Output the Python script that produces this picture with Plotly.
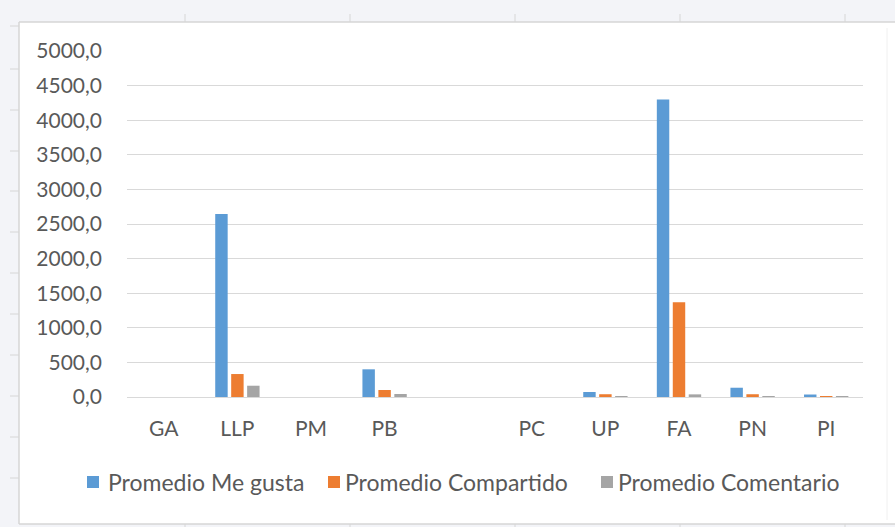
import plotly.graph_objects as go

categories = ["GA", "LLP", "PM", "PB", " ", "PC", "UP", "FA", "PN", "PI"]
me_gusta = [0, 2645, 0, 400, None, 0, 72, 4300, 134, 36]
compartido = [0, 332, 0, 101, None, 0, 40, 1368, 40, 4]
comentario = [0, 163, 0, 43, None, 0, 4, 38, 5, 2]
y_ticks = [0, 500, 1000, 1500, 2000, 2500, 3000, 3500, 4000, 4500, 5000]
y_tick_labels = ["0,0", "500,0", "1000,0", "1500,0", "2000,0", "2500,0",
                 "3000,0", "3500,0", "4000,0", "4500,0", "5000,0"]

series_names = ["Promedio Me gusta", "Promedio Compartido", "Promedio Comentario"]
series_values = [me_gusta, compartido, comentario]
series_colors = ["#5b9bd5", "#ed7d31", "#a5a5a5"]

fig = go.Figure()
for name, vals, color in zip(series_names, series_values, series_colors):
    fig.add_trace(go.Bar(x=categories, y=vals, name=name, showlegend=False,
                         marker=dict(color=color, line=dict(width=0))))

W, H = 895, 527
L, R, T, B = 127, 32, 51, 130
pw, ph = W - L - R, H - T - B

def px(x):
    return (x - L) / pw

def py(y):
    return (H - B - y) / ph

line_col = "#d6d6d6"
shapes = [
    # white chart area (spreadsheet chart object)
    dict(type="rect", xref="paper", yref="paper", x0=px(19), x1=px(W + 5),
         y0=py(524), y1=py(22), fillcolor="white", line=dict(width=0), layer="below"),
    dict(type="line", xref="paper", yref="paper", x0=px(19), x1=px(W + 5),
         y0=py(22), y1=py(22), line=dict(color=line_col, width=1.5), layer="below"),
    dict(type="line", xref="paper", yref="paper", x0=px(19), x1=px(19),
         y0=py(524), y1=py(22), line=dict(color=line_col, width=1.5), layer="below"),
    dict(type="line", xref="paper", yref="paper", x0=px(19), x1=px(W + 5),
         y0=py(524), y1=py(524), line=dict(color=line_col, width=1.5), layer="below"),
    dict(type="line", xref="paper", yref="paper", x0=px(887), x1=px(887),
         y0=py(520), y1=py(28), line=dict(color="#f0f0f0", width=1), layer="below"),
]
for cx in [185, 350, 515, 680, 845]:
    shapes.append(dict(type="line", xref="paper", yref="paper", x0=px(cx), x1=px(cx),
                       y0=py(22), y1=py(14), line=dict(color=line_col, width=1), layer="below"))
    shapes.append(dict(type="line", xref="paper", yref="paper", x0=px(cx), x1=px(cx),
                       y0=py(H + 2), y1=py(524), line=dict(color=line_col, width=1), layer="below"))
for ry in [26, 69, 110, 151, 191, 232, 273, 314, 355, 396, 437, 478]:
    shapes.append(dict(type="line", xref="paper", yref="paper", x0=px(10), x1=px(19),
                       y0=py(ry), y1=py(ry), line=dict(color=line_col, width=1), layer="below"))

# manual legend (single row, like the Excel legend)
legend_sq_x = [93, 334, 607]
legend_txt_x = [106, 343, 616]
legend_y = 482
annotations = []
for name, color, sx, tx in zip(series_names, series_colors, legend_sq_x, legend_txt_x):
    shapes.append(dict(type="rect", xref="paper", yref="paper",
                       x0=px(sx - 6), x1=px(sx + 6), y0=py(legend_y + 6), y1=py(legend_y - 6),
                       fillcolor=color, line=dict(width=0)))
    annotations.append(dict(text=name, xref="paper", yref="paper", x=px(tx), y=py(legend_y),
                            xanchor="left", yanchor="middle", showarrow=False,
                            font=dict(size=23, color="#595959")))

fig.update_layout(
    width=W, height=H,
    margin=dict(l=L, r=R, t=T, b=B, pad=0),
    paper_bgcolor="#f3f4f8",
    plot_bgcolor="white",
    barmode="group",
    bargap=0.35,
    bargroupgap=0.22,
    font=dict(family="Lato, 'Open Sans', sans-serif", size=21, color="#595959"),
    shapes=shapes,
    annotations=annotations,
    showlegend=False,
    xaxis=dict(type="category", categoryorder="array", categoryarray=categories,
               showgrid=False, showline=False, zeroline=False, ticks="",
               ticklabelstandoff=17, tickfont=dict(size=21, color="#595959"),
               fixedrange=True),
    yaxis=dict(range=[0, 5000], tickvals=y_ticks, ticktext=y_tick_labels,
               showgrid=True, gridcolor="#d9d9d9", gridwidth=1.3,
               zeroline=True, zerolinecolor="#d9d9d9", zerolinewidth=1.3,
               showline=False, ticks="", ticklabelstandoff=24,
               tickfont=dict(size=21, color="#595959"), fixedrange=True),
)

fig.write_html("out.html")
